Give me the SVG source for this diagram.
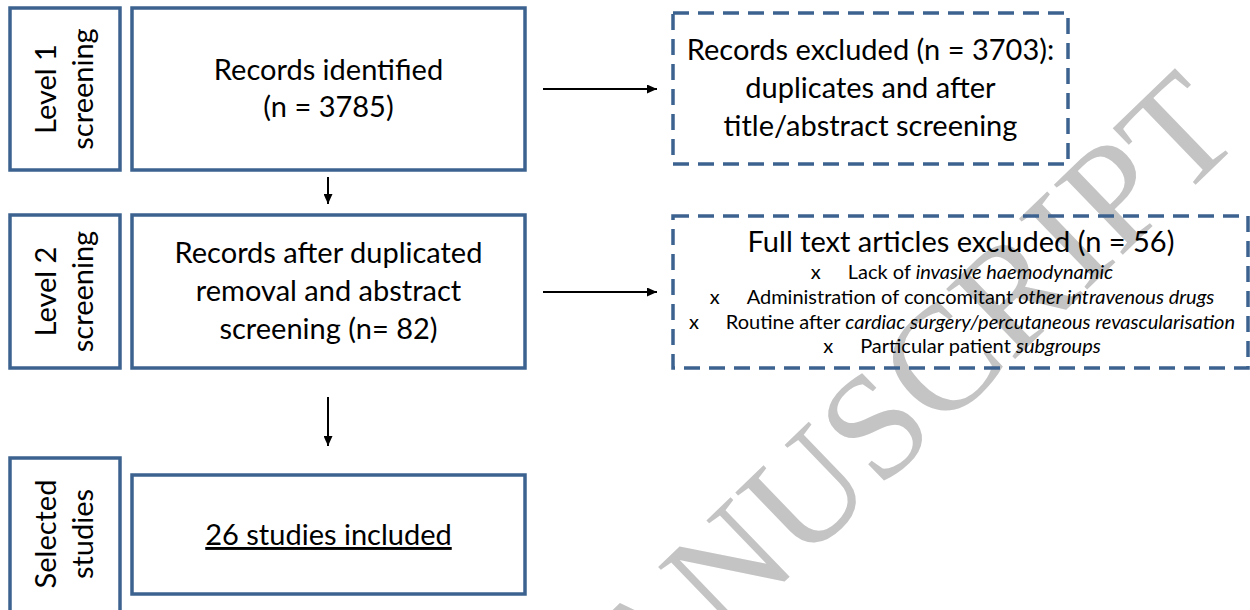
<svg xmlns="http://www.w3.org/2000/svg" width="1250" height="610" viewBox="0 0 1250 610">
<defs>
<style>
.box{fill:none;stroke:#3c6390;stroke-width:3.5}
.dash{fill:none;stroke:#3c6390;stroke-width:3.5;stroke-dasharray:16 9}
.t{font-family:Lato,'Open Sans','Liberation Sans',sans-serif;font-size:29px;fill:#000;text-anchor:middle}
.s{font-size:20px}
.i{font-style:italic}
.wm{font-family:'Liberation Serif',serif;font-size:150px;fill:#c4c4c4;text-anchor:end}
.conn line{stroke:#000;stroke-width:2;marker-end:url(#ah)}
</style>
<marker id="ah" viewBox="0 0 10 9" refX="10" refY="4.5" markerWidth="10" markerHeight="9" markerUnits="userSpaceOnUse" orient="auto"><path d="M0,0 L10,4.5 L0,9 z" fill="#000"/></marker>
</defs>
<rect width="1250" height="610" fill="#fff"/>
<text class="wm" transform="translate(1245,137) rotate(-44)">ACCEPTED MANUSCRIPT</text>

<g id="level1-label">
<rect class="box" x="10" y="8" width="110" height="162"/>
<text class="t" transform="translate(56,89) rotate(-90)">Level 1</text>
<text class="t" transform="translate(93,89) rotate(-90)">screening</text>
</g>
<g id="records-identified">
<rect class="box" x="132" y="8" width="393" height="162"/>
<text class="t" x="328.5" y="80">Records identified</text>
<text class="t" x="328.5" y="117">(n = 3785)</text>
</g>
<g id="records-excluded">
<rect class="dash" x="673" y="13" width="395" height="151"/>
<text class="t" x="870.5" y="60">Records excluded (n = 3703):</text>
<text class="t" x="870.5" y="98">duplicates and after</text>
<text class="t" x="870.5" y="136">title/abstract screening</text>
</g>
<g id="level2-label">
<rect class="box" x="10" y="215" width="110" height="153"/>
<text class="t" transform="translate(56,291.5) rotate(-90)">Level 2</text>
<text class="t" transform="translate(93,291.5) rotate(-90)">screening</text>
</g>
<g id="records-after">
<rect class="box" x="132" y="215" width="393" height="153"/>
<text class="t" x="328.5" y="263">Records after duplicated</text>
<text class="t" x="328.5" y="301">removal and abstract</text>
<text class="t" x="328.5" y="339">screening (n= 82)</text>
</g>
<g id="fulltext-excluded">
<rect class="dash" x="673" y="216" width="575" height="152"/>
<text class="t" x="961" y="252">Full text articles excluded (n = 56)</text>
<text class="t s" x="962" y="279">x<tspan dx="27">Lack of </tspan><tspan class="i">invasive haemodynamic</tspan></text>
<text class="t s" x="962" y="304">x<tspan dx="27">Administration of concomitant </tspan><tspan class="i">other intravenous drugs</tspan></text>
<text class="t s" x="962" y="329">x<tspan dx="27">Routine after </tspan><tspan class="i">cardiac surgery/percutaneous revascularisation</tspan></text>
<text class="t s" x="962" y="353">x<tspan dx="27">Particular patient </tspan><tspan class="i">subgroups</tspan></text>
</g>
<g id="selected-label">
<rect class="box" x="10" y="458" width="110" height="158"/>
<text class="t" transform="translate(56,534) rotate(-90)">Selected</text>
<text class="t" transform="translate(93,534) rotate(-90)">studies</text>
</g>
<g id="studies-included">
<rect class="box" x="132" y="475" width="393" height="119"/>
<text class="t" x="328.5" y="545" text-decoration="underline">26 studies included</text>
</g>
<g id="connectors" class="conn">
<line x1="328" y1="177" x2="328" y2="204"/>
<line x1="328" y1="397" x2="328" y2="446"/>
<line x1="543" y1="89" x2="657" y2="89"/>
<line x1="543" y1="292" x2="657" y2="292"/>
</g>
</svg>
